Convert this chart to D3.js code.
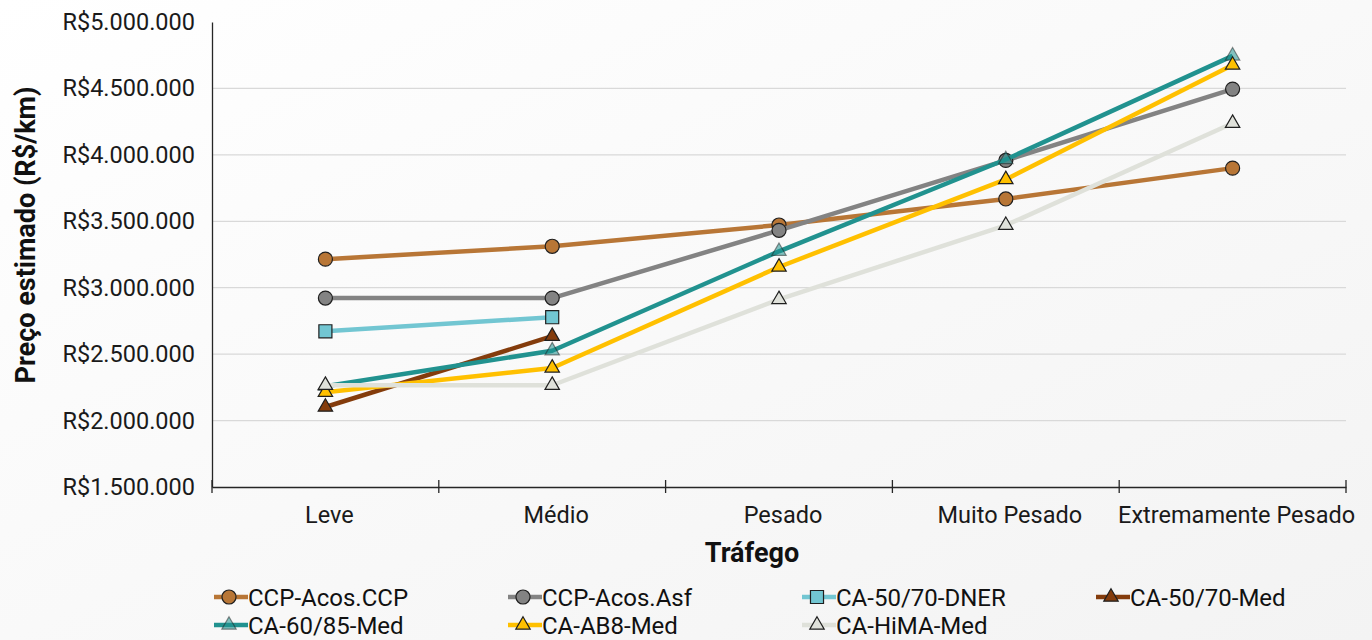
<!DOCTYPE html>
<html>
<head>
<meta charset="utf-8">
<script src="https://cdn.jsdelivr.net/npm/d3@7/dist/d3.min.js"></script>
<style>
  html, body { margin: 0; padding: 0; }
  body { width: 1372px; height: 640px; overflow: hidden; font-family: Roboto, "Noto Sans", sans-serif; }
  .tick text { font-family: Roboto, sans-serif; }
</style>
</head>
<body>
<div id="chart"></div>
<script>
// categories and series values (R$/km)
const categories = ['Leve', 'Médio', 'Pesado', 'Muito Pesado', 'Extremamente Pesado'];
const yTicks = [1500000, 2000000, 2500000, 3000000, 3500000, 4000000, 4500000, 5000000];

const ccpAcosCcp = [3215000, 3312000, 3472000, 3668000, 3900000];
const ccpAcosAsf = [2922000, 2922000, 3432000, 3958000, 4495000];
const ca5070Dner = [2672000, 2778000];
const ca5070Med = [2102000, 2635000];
const ca6085Med = [2258000, 2526000, 3274000, 3965000, 4745000];
const caAb8Med = [2213000, 2396000, 3156000, 3815000, 4676000];
const caHimaMed = [2266000, 2266000, 2912000, 3470000, 4238000];

const seriesNames = ['CCP-Acos.CCP', 'CCP-Acos.Asf', 'CA-50/70-DNER', 'CA-50/70-Med', 'CA-60/85-Med', 'CA-AB8-Med', 'CA-HiMA-Med'];
const seriesValues = [ccpAcosCcp, ccpAcosAsf, ca5070Dner, ca5070Med, ca6085Med, caAb8Med, caHimaMed];

// styling per series
const seriesStyle = [
  { color: '#b87636', marker: 'circle', fill: '#b87636', fillOpacity: 1 },
  { color: '#838383', marker: 'circle', fill: '#838383', fillOpacity: 1 },
  { color: '#72c6d2', marker: 'square', fill: '#72c6d2', fillOpacity: 1 },
  { color: '#843c0c', marker: 'triangle', fill: '#843c0c', fillOpacity: 1 },
  { color: '#21928f', marker: 'triangle', fill: '#21928f', fillOpacity: 0.55 },
  { color: '#ffc000', marker: 'triangle', fill: '#ffc000', fillOpacity: 1 },
  { color: '#dfe1da', marker: 'triangle', fill: '#dfe1da', fillOpacity: 1 }
];

const width = 1372, height = 640;
const margin = { top: 22, right: 26, bottom: 153, left: 212 };

const svg = d3.select('#chart').append('svg')
  .attr('width', width)
  .attr('height', height);

// soft background
const defs = svg.append('defs');
const grad = defs.append('linearGradient')
  .attr('id', 'bg')
  .attr('x1', '0%').attr('y1', '0%')
  .attr('x2', '100%').attr('y2', '100%');
grad.append('stop').attr('offset', '0%').attr('stop-color', '#ffffff');
grad.append('stop').attr('offset', '100%').attr('stop-color', '#f3f3f3');
svg.append('rect').attr('width', width).attr('height', height).attr('fill', 'url(#bg)');

const innerW = width - margin.left - margin.right;
const innerH = height - margin.top - margin.bottom;

const chart = svg.append('g')
  .attr('transform', `translate(${margin.left},${margin.top})`);

const x = d3.scaleBand().domain(categories).range([0, innerW]).padding(0);
const y = d3.scaleLinear().domain([1500000, 5000000]).range([innerH, 0]);

const fmt = v => 'R$' + d3.format(',')(v).replace(/,/g, '.');

// gridlines
chart.append('g')
  .selectAll('line')
  .data(yTicks.filter(t => t > 1500000 && t < 5000000))
  .join('line')
  .attr('x1', 0)
  .attr('x2', innerW)
  .attr('y1', d => y(d))
  .attr('y2', d => y(d))
  .attr('stroke', '#d9d9d9')
  .attr('stroke-width', 1.3);

// y axis
const yAxis = chart.append('g')
  .call(d3.axisLeft(y).tickValues(yTicks).tickFormat(fmt).tickSize(0).tickPadding(17));
yAxis.select('.domain').attr('stroke', '#262626').attr('stroke-width', 1.3);
yAxis.selectAll('text')
  .attr('font-size', 23.5)
  .attr('fill', '#1a1a1a');

// x axis
const xAxis = chart.append('g')
  .attr('transform', `translate(0,${innerH})`)
  .call(d3.axisBottom(x).tickSize(0).tickPadding(19));
xAxis.select('.domain').attr('stroke', '#262626').attr('stroke-width', 1.3);
xAxis.selectAll('text')
  .attr('font-size', 23.5)
  .attr('dx', 4)
  .attr('fill', '#1a1a1a');

// cross tick marks at band boundaries
chart.append('g')
  .selectAll('line')
  .data(categories)
  .join('line')
  .attr('x1', d => x(d))
  .attr('x2', d => x(d))
  .attr('y1', innerH - 7)
  .attr('y2', innerH + 6)
  .attr('stroke', '#262626')
  .attr('stroke-width', 1.3);
chart.append('line')
  .attr('x1', innerW).attr('x2', innerW)
  .attr('y1', innerH - 7).attr('y2', innerH + 6)
  .attr('stroke', '#262626').attr('stroke-width', 1.3);

// titles
svg.append('text')
  .attr('transform', 'translate(35,235) rotate(-90)')
  .attr('text-anchor', 'middle')
  .attr('font-size', 27)
  .attr('font-weight', 'bold')
  .attr('fill', '#111')
  .text('Preço estimado (R$/km)');

svg.append('text')
  .attr('x', 752)
  .attr('y', 562)
  .attr('text-anchor', 'middle')
  .attr('font-size', 27)
  .attr('font-weight', 'bold')
  .attr('fill', '#111')
  .text('Tráfego');

const symbolFor = m => m === 'circle' ? d3.symbol(d3.symbolCircle, 155)
  : m === 'square' ? d3.symbol(d3.symbolSquare, 170)
  : d3.symbol(d3.symbolTriangle, 90);

const line = d3.line()
  .x((d, i) => x(categories[i]) + x.bandwidth() / 2)
  .y(d => y(d));

// series lines + markers
seriesValues.forEach((vals, s) => {
  const st = seriesStyle[s];
  const g = chart.append('g').attr('class', 'series');
  g.append('path')
    .datum(vals)
    .attr('d', line)
    .attr('fill', 'none')
    .attr('stroke', st.color)
    .attr('stroke-width', 4.5)
    .attr('stroke-linejoin', 'round');
  g.selectAll('path.marker')
    .data(vals)
    .join('path')
    .attr('class', 'marker')
    .attr('transform', (d, i) => `translate(${x(categories[i]) + x.bandwidth() / 2},${y(d)})`)
    .attr('d', symbolFor(st.marker))
    .attr('fill', st.fill)
    .attr('fill-opacity', st.fillOpacity)
    .attr('stroke', '#1f1f1f')
    .attr('stroke-opacity', s === 4 ? 0.5 : 1)
    .attr('stroke-width', 1.2);
});

// legend
const legend = svg.append('g');
const legendItems = legend.selectAll('g')
  .data(seriesNames)
  .join('g')
  .attr('transform', (d, i) => `translate(${214 + (i % 4) * 294},${i < 4 ? 597 : 625})`);

legendItems.append('line')
  .attr('x1', 0).attr('x2', 34)
  .attr('stroke', (d, i) => seriesStyle[i].color)
  .attr('stroke-width', 4.5);

legendItems.append('path')
  .attr('transform', 'translate(15,0)')
  .attr('d', (d, i) => symbolFor(seriesStyle[i].marker)())
  .attr('fill', (d, i) => seriesStyle[i].fill)
  .attr('fill-opacity', (d, i) => seriesStyle[i].fillOpacity)
  .attr('stroke', '#1f1f1f')
  .attr('stroke-opacity', (d, i) => i === 4 ? 0.5 : 1)
  .attr('stroke-width', 1.2);

legendItems.append('text')
  .attr('x', 34)
  .attr('dy', '0.36em')
  .attr('font-size', 24)
  .attr('fill', '#111')
  .text(d => d);
</script>
</body>
</html>
